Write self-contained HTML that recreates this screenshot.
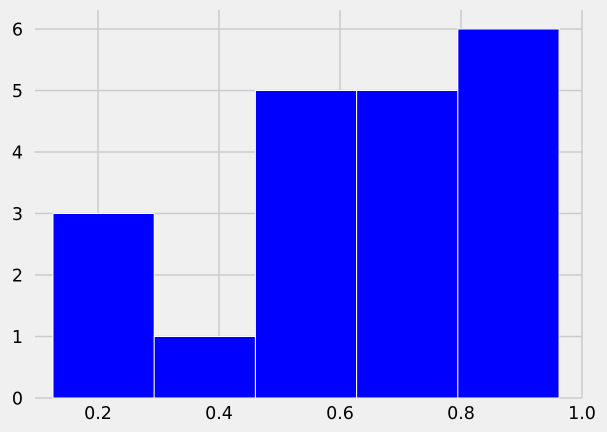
<!DOCTYPE html>
<html><head><meta charset="utf-8"><style>
html,body{margin:0;padding:0;background:#f0f0f0;}
svg{display:block;font-family:"DejaVu Sans","Liberation Sans",sans-serif;}
</style></head><body>
<svg id="chart" width="607" height="432" xmlns="http://www.w3.org/2000/svg">
<rect width="607" height="432" fill="#f0f0f0"/>
<g id="grid"></g><g id="bars"></g><g id="labels"></g>
</svg>
<script>
const binEdges = [0.1256, 0.2929, 0.4602, 0.6275, 0.7948, 0.9621];
const counts = [3, 1, 5, 5, 6];
const xTicks = [0.2, 0.4, 0.6, 0.8, 1.0];
const xTickLabels = ["0.2", "0.4", "0.6", "0.8", "1.0"];
const yTicks = [0, 1, 2, 3, 4, 5, 6];

const NS = "http://www.w3.org/2000/svg";
const plotL = 35, plotR = 582, plotT = 10, plotB = 398;
function xs(v){ return 98 + (v - 0.2) * 605; }
function ys(v){ return 398 - v * 61.5; }
function mk(tag, attrs, parent){ const e = document.createElementNS(NS, tag); for (const k in attrs) e.setAttribute(k, attrs[k]); parent.appendChild(e); return e; }
const grid = document.getElementById('grid'), bars = document.getElementById('bars'), labels = document.getElementById('labels');

xTicks.forEach((t, i) => {
  const l = mk('line', {x1: xs(t), x2: xs(t), y1: plotT, y2: plotB, stroke: '#cbcbcb', 'stroke-width': 1.5}, grid);
  
  
  const tx = mk('text', {x: xs(t), y: 419, 'text-anchor': 'middle', 'font-size': 17.5, fill: '#000'}, labels);
  tx.textContent = xTickLabels[i];
  
  
});
yTicks.forEach(t => {
  const l = mk('line', {x1: plotL, x2: plotR, y1: ys(t), y2: ys(t), stroke: '#cbcbcb', 'stroke-width': 1.5}, grid);
  
  
  const tx = mk('text', {x: 23, y: ys(t) + 6.5, 'text-anchor': 'end', 'font-size': 17.5, fill: '#000'}, labels);
  tx.textContent = String(t);
  
  
});
counts.forEach((c, i) => {
  const x0 = xs(binEdges[i]), x1 = xs(binEdges[i + 1]);
  const r = mk('rect', {x: x0, y: ys(c), width: x1 - x0, height: ys(0) - ys(c), fill: '#0000ff', stroke: '#ffffff', 'stroke-width': 1}, bars);
  
  
});
</script>
</body></html>
